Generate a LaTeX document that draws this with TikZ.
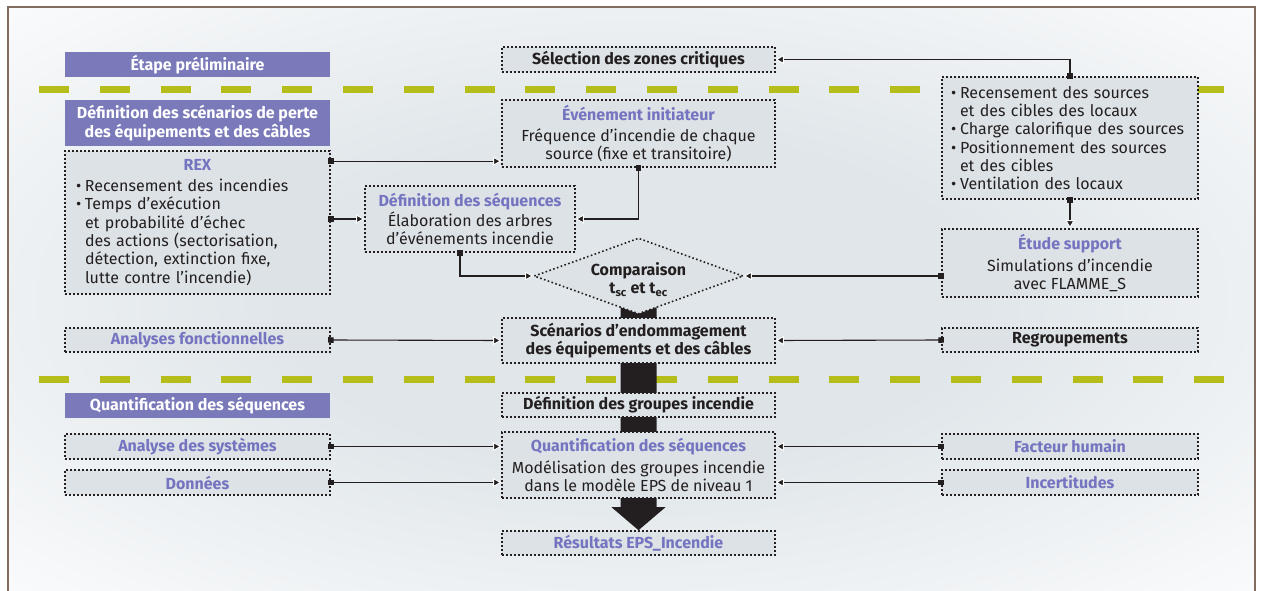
\documentclass[tikz,border=0pt]{standalone}
\usepackage{fontspec}
\setmainfont{Fira Sans}
\usepackage{tikz}
\usetikzlibrary{arrows.meta,backgrounds,calc}
\usetikzlibrary{shapes.geometric}
\definecolor{violetfond}{RGB}{122,122,186}
\definecolor{violettexte}{RGB}{116,116,192}
\definecolor{boitefond}{RGB}{220,226,229}
\definecolor{fondbleu}{RGB}{224,230,234}
\definecolor{vertpointille}{RGB}{181,189,26}
\definecolor{cadre}{RGB}{130,108,95}
\definecolor{encre}{RGB}{35,31,32}
\pgfdeclareradialshading{fondrayon}{\pgfpoint{0bp}{0bp}}{color(0bp)=(fondbleu); color(14bp)=(fondbleu); color(40bp)=(white); color(50bp)=(white)}
\newcommand{\corps}{\fontsize{16}{18.3}\selectfont}
\newcommand{\titre}[1]{{\color{violettexte}\bfseries #1}}
\newcommand{\puce}{\makebox[9pt][l]{\textbullet}}
\newcommand{\suite}{\hspace*{9pt}}
\tikzstyle{bandeau}=[fill=violetfond, text=white, font=\corps\bfseries, inner sep=0pt, align=center, minimum width=265pt]
\tikzstyle{boite}=[fill=boitefond, draw=encre, line width=1.6pt, dash pattern=on 1.6pt off 2.4pt, inner sep=0pt, align=center, text=encre, font=\corps]
\tikzstyle{lien}=[draw=encre, line width=1.1pt, {Square[length=5.5pt,width=5.5pt]}-{Triangle[length=8pt,width=9pt,fill=encre,color=white,line width=0.9pt]}, shorten <=-2.7pt]

\begin{document}
\begin{tikzpicture}[x=1pt,y=-1pt]
 \useasboundingbox (0,0) rectangle (1261,591);
%
 \node[bandeau, minimum height=25pt] (etape) at (197.5,64.5) {Étape préliminaire};
 \node[bandeau, minimum height=46pt] (defscen) at (197.5,123) {Définition des scénarios de perte\\[0.7pt]des équipements et des câbles};
 \node[bandeau, minimum height=25pt] (quantif) at (197.5,405.5) {Quantification des séquences};
%
 \node[boite, minimum width=273pt, minimum height=25pt, font=\corps\bfseries] (sel) at (638.5,59.5) {Sélection des zones critiques};
 \node[boite, minimum width=273pt, minimum height=67pt] (evt) at (638.5,133.5) {\titre{Événement initiateur}\\[3pt]Fréquence d’incendie de chaque\\source (fixe et transitoire)};
 \node[boite, minimum width=265pt, minimum height=143pt, text width=243pt, align=left] (rex) at (197.5,222.5) {\makebox[\linewidth]{\titre{REX}}\\[2.5pt]\puce Recensement des incendies\\\puce Temps d’exécution\\\suite et probabilité d’échec\\\suite des actions (sectorisation,\\\suite détection, extinction fixe,\\\suite lutte contre l’incendie)};
 \node[boite, minimum width=210pt, minimum height=66pt] (seq) at (470,219) {\titre{Définition des séquences}\\[2pt]Élaboration des arbres\\d’événements incendie};
 \node[boite, diamond, aspect=2.75, minimum width=187pt, minimum height=68pt, font=\corps\bfseries] (cmp) at (638.5,276) {\\[2pt]Comparaison\\t\textsubscript{sc} et t\textsubscript{ec}};
 \node[boite, minimum width=256pt, minimum height=122pt, text width=238pt, align=left] (src) at (1070,138) {\puce Recensement des sources\\\suite et des cibles des locaux\\\puce Charge calorifique des sources\\\puce Positionnement des sources\\\suite et des cibles\\\puce Ventilation des locaux};
 \node[boite, minimum width=256pt, minimum height=68pt] (etude) at (1070,263) {\titre{Étude support}\\[3pt]Simulations d’incendie\\avec FLAMME\_S};
 \node[boite, minimum width=265pt, minimum height=24pt] (afonc) at (197.5,340) {\titre{Analyses fonctionnelles}};
 \node[boite, minimum width=273pt, minimum height=45pt, font=\corps\bfseries] (scen) at (638.5,340.5) {Scénarios d’endommagement\\des équipements et des câbles};
 \node[boite, minimum width=256pt, minimum height=24pt, font=\corps\bfseries] (regr) at (1070,340) {Regroupements};
 \node[boite, minimum width=273pt, minimum height=24pt, font=\corps\bfseries] (groupes) at (638.5,405) {Définition des groupes incendie};
 \node[boite, minimum width=273pt, minimum height=66pt] (quant) at (638.5,465) {\titre{Quantification des séquences}\\[3pt]Modélisation des groupes incendie\\dans le modèle EPS de niveau 1};
 \node[boite, minimum width=265pt, minimum height=25pt] (asys) at (197.5,446.5) {\titre{Analyse des systèmes}};
 \node[boite, minimum width=265pt, minimum height=25pt] (don) at (197.5,482.5) {\titre{Données}};
 \node[boite, minimum width=256pt, minimum height=25pt] (fh) at (1070,446.5) {\titre{Facteur humain}};
 \node[boite, minimum width=256pt, minimum height=25pt] (inc) at (1070,482.5) {\titre{Incertitudes}};
 \node[boite, minimum width=273pt, minimum height=24pt] (res) at (638.5,543) {\titre{Résultats EPS\_Incendie}};
%
 \begin{scope}[on background layer]
  \fill[white] (0,0) rectangle (1261,591);
  \shade[shading=fondrayon] (8,7) rectangle (1255,591);
  \draw[vertpointille, line width=7pt, dash pattern=on 30pt off 30.8pt] (39,90) -- (1226,90);
  \draw[vertpointille, line width=7pt, dash pattern=on 30pt off 30.8pt] (39,379) -- (1226,379);
  \fill[encre] ([xshift=-18pt]cmp.center) -- ([xshift=18pt]cmp.center) -- ([xshift=18pt,yshift=23pt]res.north) -- ([xshift=27pt,yshift=23pt]res.north) -- (res.north) -- ([xshift=-27pt,yshift=23pt]res.north) -- ([xshift=-18pt,yshift=23pt]res.north) -- cycle;
 \end{scope}
 \draw[cadre, line width=1.3pt] (8,591) -- (8,7) -- (1255,7) -- (1255,591);
%
 \coordinate (rexhaut) at ($(rex.north east)+(0,11)$);
 \coordinate (seqbas) at ($(seq.south)+(-10,0)$);
 \draw[lien] (src.north) |- (sel.east);
 \draw[lien] (rexhaut) -- (rexhaut -| evt.west);
 \draw[lien] (evt.south) |- (seq.east);
 \draw[lien] (rex.east |- seq.west) -- (seq.west);
 \draw[lien] (seqbas) |- (cmp.west);
 \draw[lien] (etude.west |- cmp.east) -- (cmp.east);
 \draw[lien] (src.south) -- (etude.north);
 \draw[lien] (afonc.east) -- (scen.west);
 \draw[lien] (regr.west) -- (scen.east);
 \draw[lien] (asys.east) -- (asys.east -| quant.west);
 \draw[lien] (don.east) -- (don.east -| quant.west);
 \draw[lien] (fh.west) -- (fh.west -| quant.east);
 \draw[lien] (inc.west) -- (inc.west -| quant.east);
\end{tikzpicture}
\end{document}
